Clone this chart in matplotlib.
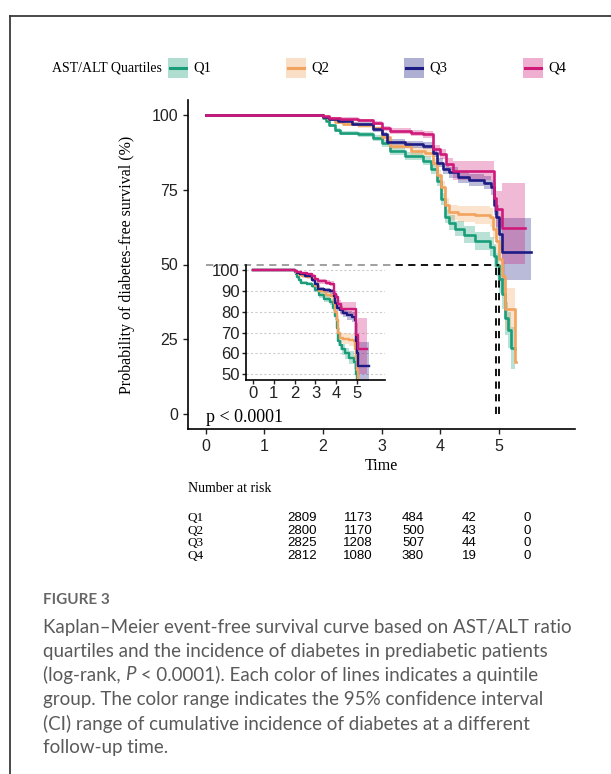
import matplotlib
matplotlib.use('Agg')
import matplotlib.pyplot as plt
from matplotlib.patches import Rectangle
from matplotlib.lines import Line2D

W, H = 611, 774
fig = plt.figure(figsize=(W / 100, H / 100), dpi=100)


def fx(p):
    return p / W


def fy(p):
    return 1 - p / H


# ---------------- data ----------------
groups = ['Q1', 'Q2', 'Q3', 'Q4']
colors = ['#1A9E7A', '#F2A35E', '#1C1C84', '#CF1A7A']

q1_t = [0, 2.0, 2.05, 2.1, 2.2, 2.3, 2.6, 2.85, 3.0, 3.15, 3.4, 3.7, 3.85, 3.95, 4.02, 4.08, 4.15, 4.25, 4.4, 4.6, 4.85, 4.92, 4.96, 5.0, 5.05, 5.1, 5.15, 5.2, 5.27]
q1_s = [100, 99, 98, 96.5, 95, 94, 93.5, 92.4, 90.5, 88, 86.3, 84.7, 82, 78, 72, 66, 64, 62, 60, 58, 56, 53, 50, 45, 40, 32, 28, 22, 21.7]
q1_lo = [100, 98.6, 97.5, 95.9, 94.3, 93.2, 92.6, 91.4, 89.3, 86.7, 84.9, 83.2, 80.3, 76.2, 70, 63.8, 61.6, 59.4, 57.2, 55, 52.7, 49.3, 46, 40.5, 35, 26.5, 22, 15, 14]
q1_hi = [100, 99.4, 98.5, 97.1, 95.7, 94.8, 94.4, 93.4, 91.7, 89.3, 87.7, 86.2, 83.7, 79.8, 74, 68.2, 66.4, 64.6, 62.8, 61, 59.3, 56.7, 54, 49.5, 45, 37.5, 34, 29, 29]

q2_t = [0, 2.0, 2.08, 2.2, 2.35, 2.6, 2.85, 3.0, 3.15, 3.5, 3.75, 3.87, 3.95, 4.02, 4.08, 4.15, 4.3, 4.6, 4.85, 4.9, 4.95, 5.0, 5.05, 5.1, 5.28, 5.3]
q2_s = [100, 99.3, 98.5, 97.5, 97, 96.5, 95.5, 92.5, 89.7, 88, 87.4, 84, 80, 76, 70, 67.5, 67, 66.5, 65.8, 62, 58, 52, 46, 35, 17.4, 17.4]
q2_lo = [100, 99, 98, 96.9, 96.3, 95.7, 94.6, 91.4, 88.5, 86.7, 86, 82.5, 78.3, 74.2, 67.8, 65, 64.3, 63.6, 62.6, 58.5, 54, 47.5, 41, 28, 17, 17]
q2_hi = [100, 99.6, 99, 98.1, 97.6, 97.2, 96.4, 93.6, 90.9, 89.3, 88.8, 85.5, 81.7, 77.8, 72.2, 70, 69.7, 69.4, 69, 65.5, 62, 56.5, 51, 42, 20, 20]

q3_t = [0, 2.0, 2.1, 2.25, 2.5, 2.85, 3.0, 3.1, 3.4, 3.7, 3.87, 3.95, 4.05, 4.15, 4.3, 4.5, 4.75, 4.87, 4.92, 4.95, 5.0, 5.05, 5.55]
q3_s = [100, 99.3, 98.5, 98, 97, 95.2, 93.5, 90.8, 90.2, 89.7, 87.4, 84, 82, 80.8, 79.3, 78.2, 77.4, 75.8, 70, 65.8, 60.3, 54.1, 54.1]
q3_lo = [100, 99, 98.1, 97.5, 96.4, 94.4, 92.6, 89.8, 89.1, 88.5, 86.1, 82.5, 80.3, 79, 77.4, 76.1, 75.1, 73.2, 66.5, 61.5, 55, 44.9, 44.9]
q3_hi = [100, 99.6, 98.9, 98.5, 97.6, 96, 94.4, 91.8, 91.3, 90.9, 88.7, 85.5, 83.7, 82.6, 81.2, 80.3, 79.7, 78.4, 73.5, 70, 65.5, 65.6, 65.6]

q4_t = [0, 2.0, 2.1, 2.3, 2.6, 2.85, 3.0, 3.14, 3.5, 3.7, 3.87, 4.0, 4.1, 4.22, 4.87, 4.92, 4.95, 5.05, 5.44]
q4_s = [100, 99.5, 99, 98.8, 98.3, 97.3, 95.5, 94.5, 94, 93.5, 88.6, 86.9, 83.6, 81.3, 81.3, 72.4, 68.6, 62.2, 62.2]
q4_lo = [100, 99.2, 98.6, 98.3, 97.7, 96.6, 94.6, 93.5, 92.9, 92.3, 87.1, 85.2, 81.5, 78.3, 78.3, 67.5, 62.5, 50.2, 50.2]
q4_hi = [100, 99.8, 99.4, 99.2, 98.8, 98, 96.4, 95.5, 95.1, 94.7, 90.1, 88.6, 85.7, 84.7, 84.7, 77.5, 74.5, 77.1, 77.1]

series_t = [q1_t, q2_t, q3_t, q4_t]
series_s = [q1_s, q2_s, q3_s, q4_s]
series_lo = [q1_lo, q2_lo, q3_lo, q4_lo]
series_hi = [q1_hi, q2_hi, q3_hi, q4_hi]

median_times = [4.95, 5.01]
median_level = 50

risk_q1 = [2809, 1173, 484, 42, 0]
risk_q2 = [2800, 1170, 500, 43, 0]
risk_q3 = [2825, 1208, 507, 44, 0]
risk_q4 = [2812, 1080, 380, 19, 0]
risk_rows = [risk_q1, risk_q2, risk_q3, risk_q4]

x_ticks = [0, 1, 2, 3, 4, 5]
y_ticks = [0, 25, 50, 75, 100]
inset_y_ticks = [50, 60, 70, 80, 90, 100]

serif = 'Liberation Serif'
sans = 'Liberation Sans'

# ---------------- frame ----------------
fig.add_artist(Line2D([fx(9.5), fx(9.5)], [fy(15.5), 0], color='#3a3a3a', lw=1.3))
fig.add_artist(Line2D([fx(9.5), 1], [fy(15.5), fy(15.5)], color='#3a3a3a', lw=1.3))

# ---------------- main axes ----------------
ax = fig.add_axes([fx(188), fy(429), fx(575) - fx(188), fy(100) - fy(429)])
ax.set_xlim(-0.3, 6.3)
ax.set_ylim(-5, 105)
for sp in ['top', 'right']:
    ax.spines[sp].set_visible(False)
for sp in ['left', 'bottom']:
    ax.spines[sp].set_linewidth(1.2)
ax.set_xticks(x_ticks)
ax.set_yticks(y_ticks)
ax.tick_params(length=3.5, width=1.0, labelsize=11.5, colors='#222222')
for lab in ax.get_xticklabels() + ax.get_yticklabels():
    lab.set_family(sans)
ax.set_xlabel('Time', family=serif, fontsize=11.5, labelpad=3)
ax.set_ylabel('Probability of diabetes-free survival (%)', family=serif, fontsize=11.5, labelpad=12)

for t, s, lo, hi, c in zip(series_t, series_s, series_lo, series_hi, colors):
    ax.fill_between(t, lo, hi, step='post', color=c, alpha=0.3, lw=0)
for t, s, c in zip(series_t, series_s, colors):
    ax.step(t, s, where='post', color=c, lw=1.9)

ax.plot([0, max(median_times)], [median_level, median_level], ls=(0, (4, 3)), color='black', lw=1.3)
for mt in median_times:
    ax.plot([mt, mt], [0, median_level], ls=(0, (4, 3)), color='black', lw=1.3)

ax.text(0, -1.3, 'p < 0.0001', family=serif, fontsize=13, va='center', ha='left')

# translucent background of the inset plot
fig.add_artist(Rectangle((fx(203), fy(405)), fx(390) - fx(203), fy(260) - fy(405),
                         facecolor='white', alpha=0.6, edgecolor='none', zorder=2))

# ---------------- inset ----------------
ins = fig.add_axes([fx(246.4), fy(379.5), fx(384.5) - fx(246.4), fy(264.8) - fy(379.5)])
ins.set_zorder(3)
ins.set_facecolor('none')
ins.set_xlim(-0.3, 6.3)
ins.set_ylim(47.5, 102.5)
for sp in ['top', 'right']:
    ins.spines[sp].set_visible(False)
for sp in ['left', 'bottom']:
    ins.spines[sp].set_linewidth(1.2)
ins.set_xticks(x_ticks)
ins.set_yticks(inset_y_ticks)
ins.tick_params(length=3, width=1.0, labelsize=12, colors='#222222', pad=2)
for lab in ins.get_xticklabels() + ins.get_yticklabels():
    lab.set_family(sans)
for yv in inset_y_ticks:
    ins.axhline(yv, color='#cccccc', lw=0.8, ls=(0, (2, 2)), zorder=0)
for t, s, lo, hi, c in zip(series_t, series_s, series_lo, series_hi, colors):
    ins.fill_between(t, lo, hi, step='post', color=c, alpha=0.3, lw=0)
for t, s, c in zip(series_t, series_s, colors):
    ins.step(t, s, where='post', color=c, lw=1.7)

# ---------------- legend ----------------
fig.text(fx(52), fy(68), 'AST/ALT Quartiles', family=serif, fontsize=10, va='center', ha='left')
key_x = [168, 286, 404, 523]
for kx, g, c in zip(key_x, groups, colors):
    fig.add_artist(Rectangle((fx(kx), fy(78)), fx(20), fy(58) - fy(78), facecolor=c, alpha=0.35, edgecolor='none'))
    fig.add_artist(Line2D([fx(kx + 2), fx(kx + 18)], [fy(68), fy(68)], color=c, lw=2.2))
    fig.text(fx(kx + 25), fy(68), g, family=serif, fontsize=10.5, va='center', ha='left')

# ---------------- risk table ----------------
fig.text(fx(188), fy(488), 'Number at risk', family=serif, fontsize=10, va='center', ha='left')
row_y = [518, 531, 543, 556]
col_x = [302, 358, 413, 469, 527]
for g, ry, row in zip(groups, row_y, risk_rows):
    fig.text(fx(188), fy(ry), g, family=serif, fontsize=9.5, va='center', ha='left')
    for cx, v in zip(col_x, row):
        fig.text(fx(cx), fy(ry), str(v), family=sans, fontsize=9.5, va='center', ha='center')

# ---------------- caption ----------------
cap_col = '#5a5a5a'
cap_font = 'Lato'
cap_size = 13.5
fig.text(fx(43), fy(600), 'FIGURE 3', family=cap_font, fontsize=11, color='#666666', weight='bold', va='center')
lines = [
    'Kaplan\u2013Meier event-free survival curve based on AST/ALT ratio',
    'quartiles and the incidence of diabetes in prediabetic patients',
    None,
    'group. The color range indicates the 95% confidence interval',
    '(CI) range of cumulative incidence of diabetes at a different',
    'follow-up time.',
]
line_y = [627, 651, 675, 700, 724, 748]
for ly, txt in zip(line_y, lines):
    if txt is not None:
        fig.text(fx(43), fy(ly), txt, family=cap_font, fontsize=cap_size, color=cap_col, va='center')

renderer = fig.canvas.get_renderer()
t1 = fig.text(fx(43), fy(675), '(log-rank, ', family=cap_font, fontsize=cap_size, color=cap_col, va='center')
bb = t1.get_window_extent(renderer)
t2 = fig.text(bb.x1 / W, fy(675), 'P', family=cap_font, fontsize=cap_size, color=cap_col, va='center',
              style='italic')
bb2 = t2.get_window_extent(renderer)
fig.text(bb2.x1 / W, fy(675), ' < 0.0001). Each color of lines indicates a quintile', family=cap_font,
         fontsize=cap_size, color=cap_col, va='center')

fig.savefig('out.png', dpi=100)
